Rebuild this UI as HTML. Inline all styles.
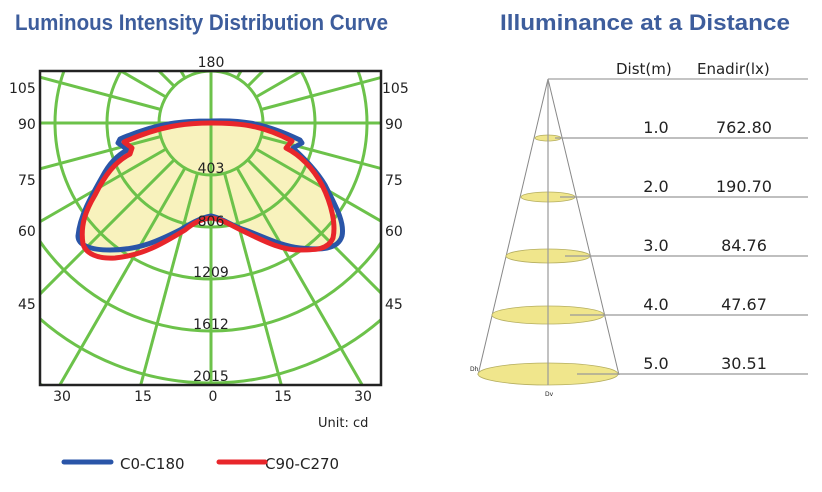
<!DOCTYPE html>
<html><head><meta charset="utf-8"><style>
html,body{margin:0;padding:0;background:#fff;width:822px;height:492px;overflow:hidden;}
svg{display:block;}
</style></head><body>
<svg width="822" height="492" viewBox="0 0 822 492" xmlns="http://www.w3.org/2000/svg" font-family="'DejaVu Sans', Verdana, sans-serif">
<defs><clipPath id="box"><rect x="40" y="71" width="341" height="314"/></clipPath></defs>
<text x="15" y="30" font-family="'Liberation Sans', sans-serif" font-size="22" font-weight="bold" fill="#3d5d9c" textLength="373" lengthAdjust="spacingAndGlyphs">Luminous Intensity Distribution Curve</text>
<text x="500" y="30" font-family="'Liberation Sans', sans-serif" font-size="22" font-weight="bold" fill="#3d5d9c" textLength="290" lengthAdjust="spacingAndGlyphs">Illuminance at a Distance</text>
<path d="M211,121 C240,120 262,122 300,140 L302,143 L293,148 C300,155 315,168 325,185 C335,205 345,222 342,236 C338,250 320,250 300,248 C280,246 260,235 245,230 C232,226 222,218 211,216 C200,218 190,224 180,230 C160,240 140,250 110,250 C90,250 78,245 78,236 C80,215 92,195 105,172 C112,160 122,152 128,150 L118,143 L120,139 C160,122 185,121 211,121 Z" fill="#f8f2bd"/>
<path d="M211,123 C240,123 262,125 292,141 L286,148 C300,155 313,168 322,185 C332,205 336,225 333,238 C328,250 315,250 300,250 C280,250 262,240 247,233 C232,226 222,219 211,218 C200,219 192,224 185,230 C165,242 145,255 115,258 C98,259 86,254 83,244 C80,225 86,210 95,195 C105,175 115,162 130,154 L132,148 L124,142 C160,126 185,123 211,123 Z" fill="#f8f2bd"/>
<g clip-path="url(#box)" stroke="#6cc24a" stroke-width="3" fill="none">
<circle cx="211" cy="123" r="52"/><circle cx="211" cy="123" r="104"/><circle cx="211" cy="123" r="156"/><circle cx="211" cy="123" r="208"/><circle cx="211" cy="123" r="260"/><circle cx="211" cy="123" r="312"/>
<line x1="211" y1="0" x2="211" y2="400"/><line x1="0" y1="123" x2="420" y2="123"/>
<g id="rl">
<line x1="224.5" y1="173.2" x2="366" y2="701"/>
<line x1="237" y1="168" x2="511" y2="643"/>
<line x1="247.8" y1="159.8" x2="635" y2="547"/>
<line x1="256" y1="149" x2="731" y2="423"/>
<line x1="261.2" y1="136.5" x2="791" y2="278"/>
<line x1="261.2" y1="109.5" x2="791" y2="-32"/>
<line x1="256" y1="97" x2="731" y2="-177"/>
<line x1="247.8" y1="86.2" x2="635" y2="-301"/>
<line x1="237" y1="78" x2="511" y2="-397"/>
<line x1="224.5" y1="72.8" x2="366" y2="-455"/>
</g>
<use href="#rl" transform="translate(422,0) scale(-1,1)"/>
</g>
<rect x="40" y="71" width="341" height="314" fill="none" stroke="#222" stroke-width="2.5"/>
<path d="M211,121 C240,120 262,122 300,140 L302,143 L293,148 C300,155 315,168 325,185 C335,205 345,222 342,236 C338,250 320,250 300,248 C280,246 260,235 245,230 C232,226 222,218 211,216 C200,218 190,224 180,230 C160,240 140,250 110,250 C90,250 78,245 78,236 C80,215 92,195 105,172 C112,160 122,152 128,150 L118,143 L120,139 C160,122 185,121 211,121 Z" fill="none" stroke="#2a55a8" stroke-width="5" stroke-linejoin="round"/>
<path d="M211,123 C240,123 262,125 292,141 L286,148 C300,155 313,168 322,185 C332,205 336,225 333,238 C328,250 315,250 300,250 C280,250 262,240 247,233 C232,226 222,219 211,218 C200,219 192,224 185,230 C165,242 145,255 115,258 C98,259 86,254 83,244 C80,225 86,210 95,195 C105,175 115,162 130,154 L132,148 L124,142 C160,126 185,123 211,123 Z" fill="none" stroke="#e8262b" stroke-width="5" stroke-linejoin="round"/>
<g font-size="14" fill="#222" text-anchor="middle">
<text x="211" y="67">180</text>
<text x="211" y="173">403</text>
<text x="211" y="226">806</text>
<text x="211" y="277">1209</text>
<text x="211" y="329">1612</text>
<text x="211" y="381">2015</text>
<text x="62" y="401">30</text><text x="143" y="401">15</text><text x="213" y="401">0</text><text x="283" y="401">15</text><text x="363" y="401">30</text>
</g>
<g font-size="14" fill="#222">
<text x="9" y="93">105</text><text x="18" y="129">90</text><text x="18" y="185">75</text><text x="18" y="236">60</text><text x="18" y="309">45</text>
<text x="382" y="93">105</text><text x="385" y="129">90</text><text x="385" y="185">75</text><text x="385" y="236">60</text><text x="385" y="309">45</text>
<text x="318" y="427" font-size="13">Unit: cd</text>
<text x="120" y="469" font-size="15">C0-C180</text>
<text x="265" y="469" font-size="15">C90-C270</text>
</g>
<line x1="64" y1="462" x2="111" y2="462" stroke="#2a55a8" stroke-width="5" stroke-linecap="round"/>
<line x1="219" y1="462" x2="265" y2="462" stroke="#e8262b" stroke-width="5" stroke-linecap="round"/>
<g stroke="#888" stroke-width="1" fill="none">
<line x1="548" y1="79" x2="808" y2="79"/>
<line x1="548" y1="79" x2="478" y2="375"/>
<line x1="548" y1="79" x2="619" y2="375"/>
</g>
<g fill="#f0e68c" stroke="#b5ae60" stroke-width="0.8">
<ellipse cx="548" cy="138" rx="13" ry="3"/>
<ellipse cx="548" cy="197" rx="27" ry="5"/>
<ellipse cx="548" cy="256" rx="42" ry="7"/>
<ellipse cx="548" cy="315" rx="56" ry="9"/>
<ellipse cx="548" cy="374" rx="70" ry="11"/>
</g>
<g stroke="#999" stroke-width="1.2">
<line x1="548" y1="79" x2="548" y2="385"/>
<line x1="555" y1="138" x2="808" y2="138"/>
<line x1="560" y1="197" x2="808" y2="197"/>
<line x1="565" y1="256" x2="808" y2="256"/>
<line x1="570" y1="315" x2="808" y2="315"/>
<line x1="577" y1="374" x2="808" y2="374"/>
</g>
<g font-size="16" fill="#222">
<text x="616" y="74" font-size="15">Dist(m)</text><text x="697" y="74" font-size="15">Enadir(lx)</text>
<g text-anchor="middle">
<text x="656" y="133">1.0</text><text x="744" y="133">762.80</text>
<text x="656" y="192">2.0</text><text x="744" y="192">190.70</text>
<text x="656" y="251">3.0</text><text x="744" y="251">84.76</text>
<text x="656" y="310">4.0</text><text x="744" y="310">47.67</text>
<text x="656" y="369">5.0</text><text x="744" y="369">30.51</text>
</g>
<text x="470" y="371" font-size="6">Dh</text>
<text x="545" y="396" font-size="6">Dv</text>
</g>
</svg>
</body></html>
